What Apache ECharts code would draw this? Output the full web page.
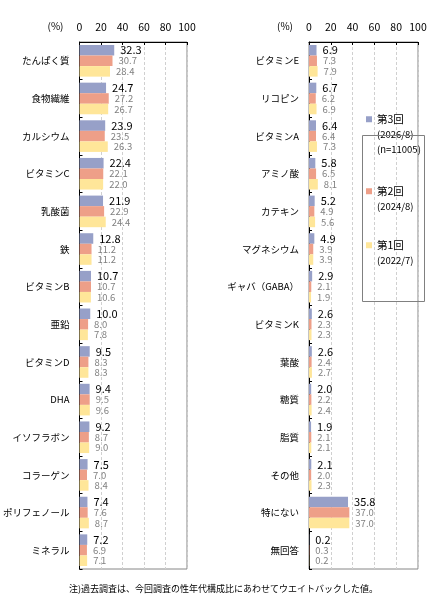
<!DOCTYPE html>
<html>
<head>
<meta charset="utf-8">
<script src="https://cdn.jsdelivr.net/npm/echarts@6/dist/echarts.min.js"></script>
<style>
html,body{margin:0;padding:0;background:#fff;}
#c{width:447px;height:616px;}
</style>
</head>
<body>
<div id="c"></div>
<script>
// ---- data ----
const leftCategories = ['たんぱく質','食物繊維','カルシウム','ビタミンC','乳酸菌','鉄','ビタミンB','亜鉛','ビタミンD','DHA','イソフラボン','コラーゲン','ポリフェノール','ミネラル'];
const left3 = [32.3,24.7,23.9,22.4,21.9,12.8,10.7,10.0,9.5,9.4,9.2,7.5,7.4,7.2];
const left2 = [30.7,27.2,23.5,22.1,22.9,11.2,10.7,8.0,8.3,9.5,8.7,7.0,7.6,6.9];
const left1 = [28.4,26.7,26.3,22.0,24.4,11.2,10.6,7.8,8.3,9.6,9.0,8.4,8.7,7.1];

const rightCategories = ['ビタミンE','リコピン','ビタミンA','アミノ酸','カテキン','マグネシウム','ギャバ（GABA）','ビタミンK','葉酸','糖質','脂質','その他','特にない','無回答'];
const right3 = [6.9,6.7,6.4,5.8,5.2,4.9,2.9,2.6,2.6,2.0,1.9,2.1,35.8,0.2];
const right2 = [7.3,6.2,6.4,6.5,4.9,3.9,2.1,2.3,2.4,2.2,2.1,2.0,37.0,0.3];
const right1 = [7.9,6.9,7.3,8.1,5.6,3.9,1.9,2.3,2.7,2.4,2.1,2.3,37.0,0.2];

const seriesNames = ['第3回','第2回','第1回'];
const seriesNotes = [['(2026/8)','(n=11005)'],['(2024/8)'],['(2022/7)']];
const xTicks = [0,20,40,60,80,100];
const unitLabel = '(%)';
const footnote = '注)過去調査は、今回調査の性年代構成比にあわせてウエイトバックした値。';

// ---- styles ----
const FONT = '"Noto Sans CJK JP", "Noto Sans", sans-serif';
const colors = ['#97A0C8','#EE9F88','#FFE699'];
const labelStyles = [
  {fontSize: 11, color: '#000'},
  {fontSize: 9.5, color: '#808080'},
  {fontSize: 9.5, color: '#808080'}
];

const chart = echarts.init(document.getElementById('c'), null, {renderer: 'canvas'});

function xAxis(gridIndex){
  return {
    type: 'value', gridIndex: gridIndex, position: 'top',
    min: xTicks[0], max: xTicks[xTicks.length-1], interval: xTicks[1]-xTicks[0],
    name: unitLabel, nameLocation: 'start', nameGap: 16,
    nameTextStyle: {fontFamily: FONT, fontSize: 10, color: '#000', verticalAlign: 'bottom', padding: [0,0,11,0]},
    axisLine: {show: true, lineStyle: {color: '#000', width: 1}},
    axisTick: {show: true, inside: true, length: 3, lineStyle: {color: '#000'}},
    axisLabel: {fontFamily: FONT, fontSize: 10.5, color: '#000', margin: 10,
      showMinLabel: true, showMaxLabel: true},
    splitLine: {show: true, lineStyle: {color: '#d0d0d0', type: [3,2], width: 1}}
  };
}
function yAxis(gridIndex, cats){
  return {
    type: 'category', gridIndex: gridIndex, data: cats, inverse: true,
    axisLine: {show: true, lineStyle: {color: '#000', width: 1}},
    axisTick: {show: true, inside: true, length: 3, lineStyle: {color: '#000'}},
    axisLabel: {fontFamily: FONT, fontSize: 9.5, color: '#000', margin: 10}
  };
}
function bars(idx, gridIdx, data){
  return {
    type: 'bar', name: seriesNames[idx], xAxisIndex: gridIdx, yAxisIndex: gridIdx,
    data: data, barGap: '0%', barCategoryGap: '16%',
    itemStyle: {color: colors[idx]},
    label: {show: true, position: 'right', distance: 6, fontFamily: FONT,
      fontSize: labelStyles[idx].fontSize, color: labelStyles[idx].color,
      formatter: p => p.value.toFixed(1)},
    emphasis: {disabled: true},
    animation: false
  };
}

// three legend components, one per entry, icon aligned with the first line
const LH = 15;
const legendTops = [114, 186, 240];
const legends = seriesNames.map((n, i) => {
  const lines = 1 + seriesNotes[i].length;
  return {
    data: [n], orient: 'vertical', left: 366, top: legendTops[i],
    icon: 'rect', itemWidth: 6, itemHeight: 6, selectedMode: false, padding: 0,
    formatter: name => ['{h|' + name + '}'].concat(seriesNotes[i].map(s => '{d|' + s + '}')).join('\n'),
    textStyle: {
      fontFamily: FONT, color: '#000', padding: [(lines-1)*LH, 0, 0, 0],
      rich: {h: {fontFamily: FONT, fontSize: 10.5, lineHeight: LH, color: '#000'},
             d: {fontFamily: FONT, fontSize: 9.5, lineHeight: LH, color: '#000'}}
    }
  };
});

chart.setOption({
  backgroundColor: '#fff',
  animation: false,
  textStyle: {fontFamily: FONT},
  grid: [
    {left: 78, top: 42, width: 109, height: 527, show: true, borderColor: '#868686', borderWidth: 1, backgroundColor: 'transparent'},
    {left: 309, top: 42, width: 109, height: 527, show: true, borderColor: '#868686', borderWidth: 1, backgroundColor: 'transparent'}
  ],
  xAxis: [xAxis(0), xAxis(1)],
  yAxis: [yAxis(0, leftCategories), yAxis(1, rightCategories)],
  legend: legends,
  series: [
    bars(0, 0, left3), bars(1, 0, left2), bars(2, 0, left1),
    bars(0, 1, right3), bars(1, 1, right2), bars(2, 1, right1)
  ],
  graphic: [
    {type: 'rect', shape: {x: 362.5, y: 135.5, width: 62, height: 166},
     style: {fill: 'rgba(255,255,255,0)', stroke: '#808080', lineWidth: 1}, z: 10, silent: true},
    {type: 'text', left: 'center', top: 584,
     style: {text: footnote, fontFamily: FONT, fontSize: 9, fill: '#000'}}
  ]
});
</script>
</body>
</html>
